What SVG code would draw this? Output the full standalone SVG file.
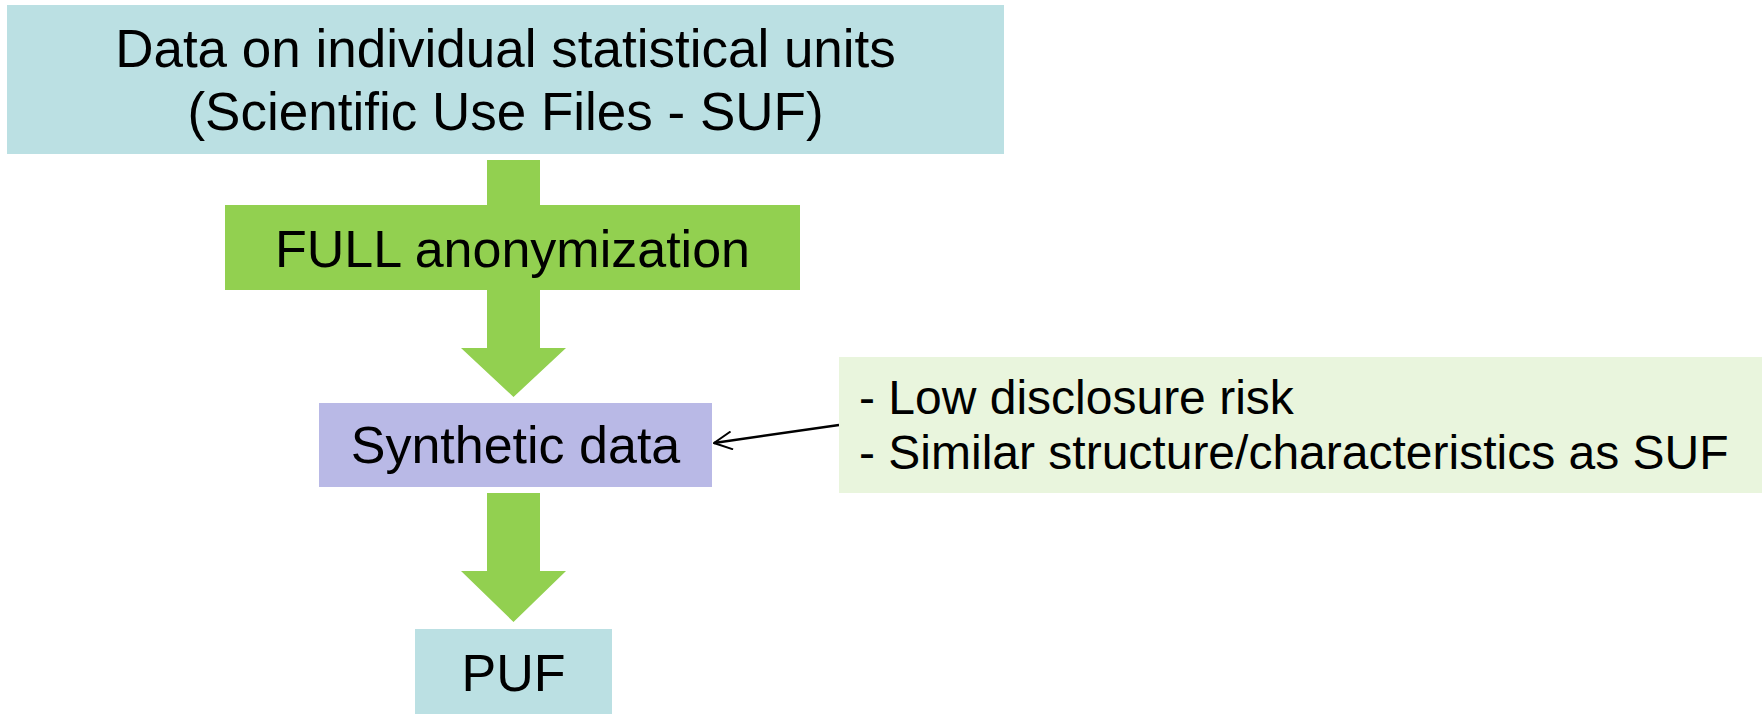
<svg xmlns="http://www.w3.org/2000/svg" width="1762" height="714" viewBox="0 0 1762 714">
  <style>
    text { font-family: "Liberation Sans", Arial, sans-serif; fill: #000; }
    .big { font-size: 53px; text-anchor: middle; }
    .side { font-size: 48px; }
    .flow { fill: #92D050; }
    .teal { fill: #BBE0E3; }
  </style>
  <defs>
    <marker id="open" viewBox="0 0 20 20" refX="19" refY="10" markerWidth="20" markerHeight="20" markerUnits="userSpaceOnUse" orient="auto">
      <path d="M1,1 L19,10 L1,19" fill="none" stroke="#000" stroke-width="2"/>
    </marker>
  </defs>

  <g id="connectors">
    <!-- block arrow: SUF -> anonymization -> synthetic data -->
    <polygon class="flow" points="487,160 540,160 540,348 566,348 513.5,397 461,348 487,348"/>
    <!-- block arrow: synthetic data -> PUF -->
    <polygon class="flow" points="487,493 540,493 540,571 566,571 513.5,622 461,571 487,571"/>
    <!-- annotation pointer -->
    <line x1="839" y1="425" x2="714" y2="443" stroke="#000" stroke-width="2.5" marker-end="url(#open)"/>
  </g>

  <g id="suf">
    <rect class="teal" x="7" y="5" width="997" height="149"/>
    <text class="big" x="505.5" y="67">Data on individual statistical units</text>
    <text class="big" x="505.5" y="130">(Scientific Use Files - SUF)</text>
  </g>

  <g id="anonymization">
    <rect class="flow" x="225" y="205" width="575" height="85"/>
    <text class="big" x="512.5" y="267" style="font-size:52px">FULL anonymization</text>
  </g>

  <g id="synthetic">
    <rect x="319" y="403" width="393" height="84" fill="#B9B9E6"/>
    <text class="big" x="515.5" y="463" style="font-size:52px">Synthetic data</text>
  </g>

  <g id="puf">
    <rect class="teal" x="415" y="629" width="197" height="85"/>
    <text class="big" x="513.5" y="691" style="font-size:52px">PUF</text>
  </g>

  <g id="properties">
    <rect x="839" y="357" width="923" height="136" fill="#E9F5DD"/>
    <text class="side" x="859" y="414">- Low disclosure risk</text>
    <text class="side" x="859" y="469">- Similar structure/characteristics as SUF</text>
  </g>
</svg>
